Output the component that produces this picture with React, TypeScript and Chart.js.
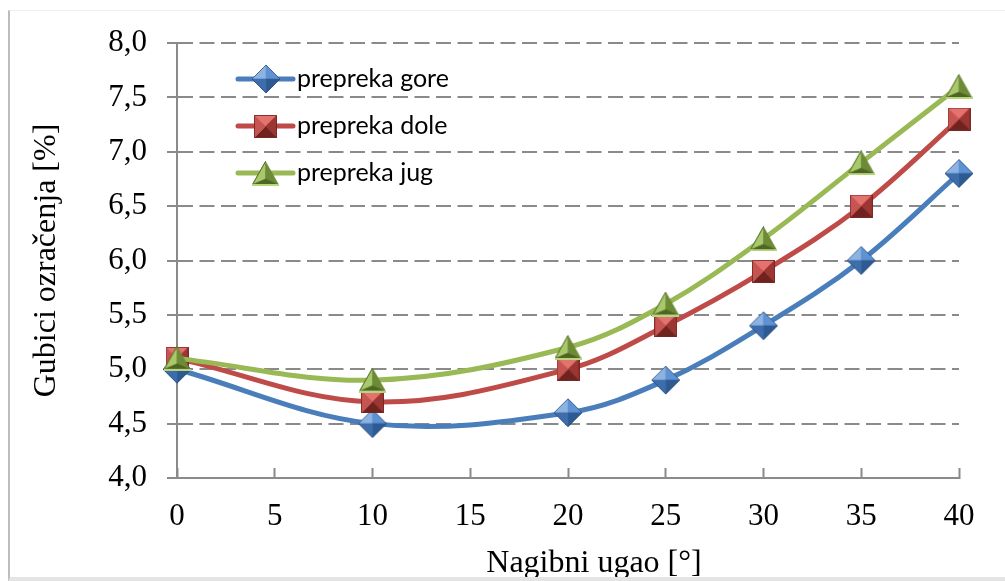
import React, { useEffect, useRef } from 'react';
import { Chart, registerables } from 'chart.js';

Chart.register(...registerables);

// ---------- data ----------
const X_VALUES = [0, 10, 20, 25, 30, 35, 40];
const SERIES_NAMES = ['prepreka gore', 'prepreka dole', 'prepreka jug'];
const GORE = [5.0, 4.5, 4.6, 4.9, 5.4, 6.0, 6.8];
const DOLE = [5.1, 4.7, 5.0, 5.4, 5.9, 6.5, 7.3];
const JUG = [5.1, 4.9, 5.2, 5.6, 6.2, 6.9, 7.6];
const X_MIN = 0;
const X_MAX = 40;
const X_STEP = 5;
const Y_MIN = 4;
const Y_MAX = 8;
const Y_STEP = 0.5;
const X_TITLE = 'Nagibni ugao [°]';
const Y_TITLE = 'Gubici ozračenja [%]';

const LINE_COLORS = ['#4a7ebb', '#be4b48', '#98b954'];
const SERIF = '"Liberation Serif", "DejaVu Serif", serif';
const SANS = 'Lato, "Open Sans", sans-serif';

type Facet = { pts: number[][]; color: string };

function facetCanvas(w: number, h: number, facets: Facet[], stroke?: string) {
  const c = document.createElement('canvas');
  c.width = w;
  c.height = h;
  const g = c.getContext('2d')!;
  facets.forEach((f) => {
    g.beginPath();
    g.moveTo(f.pts[0][0], f.pts[0][1]);
    for (let i = 1; i < f.pts.length; i++) g.lineTo(f.pts[i][0], f.pts[i][1]);
    g.closePath();
    g.fillStyle = f.color;
    g.fill();
    g.strokeStyle = f.color;
    g.lineWidth = 0.6;
    g.stroke();
  });
  if (stroke) {
    g.beginPath();
    const outer = facets.map((f) => f.pts[0]);
    g.moveTo(outer[0][0], outer[0][1]);
    for (let i = 1; i < outer.length; i++) g.lineTo(outer[i][0], outer[i][1]);
    g.closePath();
    g.strokeStyle = stroke;
    g.lineWidth = 1;
    g.stroke();
  }
  return c;
}

function makeMarkers() {
  // diamond
  const d = 30, dc = 15, dr = 14;
  const T = [dc, dc - dr], R = [dc + dr, dc], B = [dc, dc + dr], L = [dc - dr, dc], C = [dc, dc];
  const diamond = facetCanvas(d, d, [
    { pts: [L, T, C], color: '#8db3e2' },
    { pts: [T, R, C], color: '#5f92d2' },
    { pts: [R, B, C], color: '#2d5a92' },
    { pts: [B, L, C], color: '#3e6dab' },
  ], 'rgba(35,70,120,0.7)');
  // square
  const s = 23;
  const TL = [0.5, 0.5], TR = [s - 0.5, 0.5], BR = [s - 0.5, s - 0.5], BL = [0.5, s - 0.5], SC = [s / 2, s / 2];
  const square = facetCanvas(s, s, [
    { pts: [TL, TR, SC], color: '#e4726e' },
    { pts: [TR, BR, SC], color: '#9c3633' },
    { pts: [BR, BL, SC], color: '#70221f' },
    { pts: [BL, TL, SC], color: '#c65450' },
  ], 'rgba(110,30,28,0.8)');
  // triangle
  const tw = 27, th = 25;
  const A = [tw / 2, 0.5], TBL = [0.5, th - 1.5], TBR = [tw - 0.5, th - 1.5], TC = [tw / 2, th * 0.72];
  const triangle = facetCanvas(tw, th, [
    { pts: [A, TBL, TC], color: '#a9c86c' },
    { pts: [A, TBR, TC], color: '#6d8a37' },
    { pts: [TBL, TBR, TC], color: '#4d6721' },
  ], 'rgba(70,95,30,0.6)');
  const g = triangle.getContext('2d')!;
  g.fillStyle = '#b9d47f';
  g.fillRect(0, th - 2, tw, 2);
  return [diamond, square, triangle];
}

export default function App() {
  const ref = useRef<HTMLCanvasElement>(null);

  useEffect(() => {
    if (!ref.current) return;
    const markers = makeMarkers();
    const seriesValues = [GORE, DOLE, JUG];
    const drawOrder = [2, 1, 0];

    const datasets = seriesValues.map((vals, i) => ({
      label: SERIES_NAMES[i],
      data: X_VALUES.map((x, j) => ({ x, y: vals[j] })),
      borderColor: LINE_COLORS[i],
      backgroundColor: LINE_COLORS[i],
      borderWidth: 5,
      tension: 0.36,
      pointStyle: markers[i] as any,
      pointRadius: 12,
      pointHoverRadius: 12,
      clip: false as any,
      order: drawOrder[i],
    }));

    const legendPlugin = {
      id: 'insideLegend',
      afterDraw(chart: any) {
        const ctx = chart.ctx as CanvasRenderingContext2D;
        const area = chart.chartArea;
        const x0 = area.left + 61;
        const lineLen = 55;
        chart.data.datasets.forEach((ds: any, i: number) => {
          const y = area.top + 36 + i * 47;
          ctx.save();
          ctx.strokeStyle = ds.borderColor;
          ctx.lineWidth = 5;
          ctx.lineCap = 'round';
          ctx.beginPath();
          ctx.moveTo(x0, y);
          ctx.lineTo(x0 + lineLen, y);
          ctx.stroke();
          const img = markers[i];
          ctx.drawImage(img, Math.round(x0 + lineLen / 2 - img.width / 2), Math.round(y - img.height / 2));
          ctx.fillStyle = '#000';
          ctx.font = `25px ${SANS}`;
          ctx.textAlign = 'left';
          ctx.textBaseline = 'middle';
          ctx.fillText(ds.label, x0 + lineLen + 4, y);
          ctx.restore();
        });
      },
    };

    const titlePlugin = {
      id: 'axisTitles',
      afterDraw(chart: any) {
        const ctx = chart.ctx as CanvasRenderingContext2D;
        const area = chart.chartArea;
        ctx.save();
        ctx.fillStyle = '#000';
        ctx.font = `32px ${SERIF}`;
        ctx.textAlign = 'center';
        ctx.textBaseline = 'middle';
        ctx.fillText(X_TITLE, (area.left + area.right) / 2 + 26, area.bottom + 86);
        ctx.translate(47, (area.top + area.bottom) / 2);
        ctx.rotate(-Math.PI / 2);
        ctx.fillText(Y_TITLE, 0, 0);
        ctx.restore();
      },
    };

    const chart = new Chart(ref.current, {
      type: 'line',
      data: { datasets: datasets as any },
      options: {
        responsive: false,
        animation: false,
        devicePixelRatio: 1,
        layout: { padding: { left: 0, top: 43, right: 46, bottom: 0 } },
        plugins: { legend: { display: false }, tooltip: { enabled: false } },
        scales: {
          x: {
            type: 'linear',
            min: X_MIN,
            max: X_MAX,
            ticks: {
              stepSize: X_STEP,
              color: '#000',
              font: { family: SERIF, size: 31 },
              padding: 30,
              maxRotation: 0,
            },
            grid: {
              display: true,
              drawOnChartArea: false,
              drawTicks: true,
              tickLength: -10,
              tickColor: '#8a8a8a',
              tickWidth: 2,
            },
            border: { display: true, color: '#8a8a8a', width: 2 },
            afterFit: (scale: any) => {
              scale.height = 103;
            },
          },
          y: {
            type: 'linear',
            min: Y_MIN,
            max: Y_MAX,
            ticks: {
              stepSize: Y_STEP,
              color: '#000',
              font: { family: SERIF, size: 31 },
              padding: 20,
              callback: (v: any) => Number(v).toFixed(1).replace('.', ','),
            },
            grid: {
              color: '#8a8a8a',
              lineWidth: 2,
              tickLength: 10,
              tickColor: '#8a8a8a',
              tickWidth: 2,
              borderDash: [15, 6.5],
            } as any,
            border: { display: true, color: '#8a8a8a', width: 2, dash: [15, 6.5] },
            afterFit: (scale: any) => {
              scale.width = 177;
            },
          },
        },
      },
      plugins: [legendPlugin, titlePlugin],
    });

    return () => chart.destroy();
  }, []);

  return (
    <div style={{ position: 'fixed', left: 0, top: 0, width: 1005, height: 581, background: '#fff', overflow: 'hidden' }}>
      <canvas ref={ref} width={1005} height={581} style={{ position: 'absolute', left: 0, top: 0 }} />
      <div
        style={{
          position: 'absolute',
          left: 8,
          top: 10,
          width: 1100,
          height: 566,
          borderLeft: '2px solid #bdbdbd',
          borderTop: '1px solid #efefef',
          borderBottom: '5px solid #e4e4e4',
          pointerEvents: 'none',
        }}
      />
    </div>
  );
}
